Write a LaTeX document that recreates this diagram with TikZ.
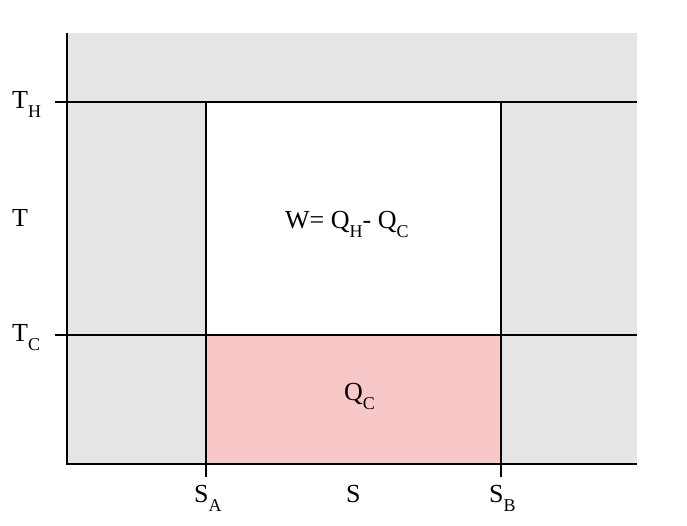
\documentclass[tikz,border=0pt]{standalone}
\usepackage{fontspec}
\setmainfont{Liberation Serif}
\definecolor{bggray}{HTML}{E5E5E5}
\definecolor{qpink}{HTML}{F8C8C8}
\newcommand{\lsub}[1]{\raisebox{-9pt}{\fontsize{18}{18}\selectfont #1}}
\begin{document}
\begin{tikzpicture}[x=1pt,y=-1pt,
  axis/.style={line width=2.2pt,black},
  lbl/.style={font=\fontsize{26}{30}\selectfont,inner sep=0pt,anchor=base west}]
\useasboundingbox (0,0) rectangle (687,525);
% key coordinates
\coordinate (O) at (67,464);
\coordinate (top) at (67,33);
\coordinate (RB) at (637,464);
\coordinate (SAh) at (206,102);
\coordinate (SBh) at (501,102);
\coordinate (SAc) at (206,335);
\coordinate (SBc) at (501,335);
\coordinate (SAb) at (206,464);
\coordinate (SBb) at (501,464);
% fills
\fill[bggray] (top) rectangle (RB);
\fill[white] (SAh) rectangle (SBc);
\fill[qpink] (SAc) rectangle (SBb);
% lines
\draw[axis] (top) -- (O) -- (RB);
\draw[axis] (55,102) -- (637,102);
\draw[axis] (55,335) -- (637,335);
\draw[axis] (SAh) -- (206,477);
\draw[axis] (SBh) -- (501,477);
% labels
\node[lbl] (lTH) at (12,108) {T\lsub{H}};
\node[lbl] (lT) at (12,226) {T};
\node[lbl] (lTC) at (12,341) {T\lsub{C}};
\node[lbl] (lSA) at (194,502) {S\lsub{A}};
\node[lbl] (lS) at (346,502) {S};
\node[lbl] (lSB) at (489,502) {S\lsub{B}};
\node[lbl] (lW) at (285,228) {W= Q\lsub{H}- Q\lsub{C}};
\node[lbl] (lQC) at (344,400) {Q\lsub{C}};
\end{tikzpicture}
\end{document}
